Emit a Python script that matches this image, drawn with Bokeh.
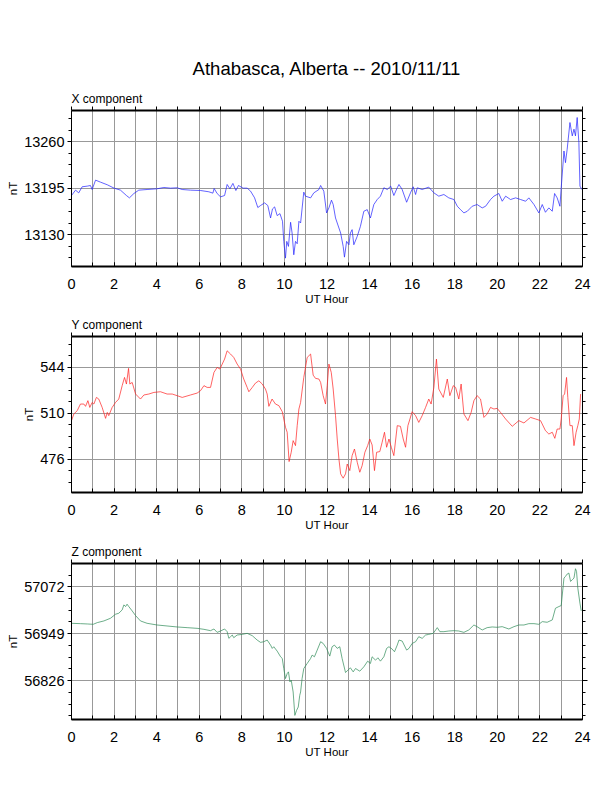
import numpy as np
from bokeh.plotting import figure
from bokeh.layouts import column
from bokeh.models import Range1d, LinearAxis, SingleIntervalTicker, FixedTicker, Title, ColumnDataSource
from bokeh.embed import file_html
from bokeh.resources import INLINE

MAIN_TITLE = "Athabasca, Alberta -- 2010/11/11"
COMPONENTS = ["X component", "Y component", "Z component"]
X_LABEL = "UT Hour"
Y_LABEL = "nT"

X_HOURS = [
    0.00, 0.19, 0.34, 0.50, 0.74, 0.89, 0.97, 1.13, 1.36, 1.68,
    2.00, 2.30, 2.58, 2.72, 2.93, 3.16, 3.55, 4.02, 4.34, 4.65,
    4.96, 5.20, 5.59, 6.06, 6.45, 6.64, 6.70, 6.84, 7.00, 7.19,
    7.31, 7.44, 7.58, 7.72, 7.84, 8.06, 8.25, 8.41, 8.60, 8.75,
    8.88, 9.07, 9.22, 9.35, 9.44, 9.54, 9.66, 9.79, 9.91, 9.97,
    10.05, 10.11, 10.19, 10.29, 10.36, 10.44, 10.52, 10.60, 10.68, 10.76,
    10.91, 10.99, 11.23, 11.38, 11.62, 11.70, 11.85, 11.98, 12.09, 12.21,
    12.29, 12.40, 12.48, 12.64, 12.76, 12.82, 12.92, 13.03, 13.10, 13.18,
    13.26, 13.42, 13.57, 13.73, 13.89, 14.04, 14.20, 14.36, 14.51, 14.67,
    14.83, 14.99, 15.14, 15.30, 15.38, 15.53, 15.74, 15.92, 16.05, 16.16,
    16.24, 16.47, 16.78, 17.02, 17.25, 17.49, 17.72, 17.96, 18.12, 18.27,
    18.43, 18.59, 18.82, 19.05, 19.29, 19.45, 19.68, 19.84, 20.07, 20.23,
    20.39, 20.62, 20.86, 21.09, 21.33, 21.48, 21.72, 21.95, 22.11, 22.26,
    22.42, 22.58, 22.69, 22.81, 22.94, 23.00, 23.13, 23.20, 23.28, 23.41,
    23.52, 23.60, 23.67, 23.75, 23.83, 23.88, 23.97]
X_NT = [
    13184.7, 13192.2, 13188.4, 13196.9, 13197.8, 13198.7, 13193.1, 13206.2, 13203.4, 13199.7,
    13195.0, 13192.2, 13184.7, 13181.4, 13187.5, 13192.2, 13193.1, 13194.1, 13195.9, 13195.0,
    13195.5, 13193.1, 13192.2, 13191.7, 13189.9, 13188.0, 13194.5, 13187.5, 13182.8, 13184.7,
    13200.1, 13194.1, 13201.6, 13191.7, 13198.7, 13195.0, 13195.0, 13190.8, 13181.4, 13167.9,
    13170.7, 13174.4, 13170.7, 13153.3, 13166.0, 13168.8, 13156.6, 13159.4, 13148.7, 13120.6,
    13097.2, 13120.6, 13113.6, 13147.3, 13132.3, 13101.9, 13120.6, 13117.3, 13148.7, 13146.3,
    13189.4, 13183.8, 13181.4, 13188.4, 13193.1, 13198.7, 13190.8, 13160.4, 13167.4, 13178.2,
    13172.1, 13153.3, 13146.3, 13132.3, 13113.6, 13098.6, 13120.6, 13115.9, 13132.3, 13137.0,
    13115.9, 13127.6, 13141.6, 13162.7, 13165.0, 13153.3, 13172.1, 13179.1, 13183.8, 13195.5,
    13193.1, 13197.8, 13184.7, 13195.5, 13200.1, 13193.1, 13175.3, 13188.4, 13196.9, 13186.1,
    13195.5, 13193.1, 13196.4, 13188.4, 13183.8, 13186.1, 13181.4, 13179.1, 13169.7, 13165.0,
    13160.4, 13162.7, 13169.7, 13172.1, 13167.4, 13169.7, 13179.1, 13183.8, 13187.5, 13176.7,
    13183.8, 13179.1, 13181.4, 13179.1, 13176.7, 13181.4, 13172.1, 13160.4, 13172.1, 13161.3,
    13167.4, 13162.7, 13187.5, 13181.4, 13169.7, 13195.5, 13246.9, 13230.6, 13249.3, 13286.7,
    13268.0, 13277.4, 13268.0, 13293.7, 13258.6, 13197.8, 13193.1]

Y_HOURS = [
    0.00, 0.11, 0.27, 0.42, 0.58, 0.66, 0.77, 0.86, 0.97, 1.05,
    1.17, 1.28, 1.44, 1.60, 1.68, 1.75, 1.91, 2.07, 2.22, 2.38,
    2.49, 2.58, 2.68, 2.74, 2.85, 3.01, 3.24, 3.40, 3.63, 3.87,
    4.18, 4.49, 4.73, 4.96, 5.20, 5.59, 5.90, 6.06, 6.22, 6.37,
    6.53, 6.69, 6.84, 6.97, 7.08, 7.19, 7.31, 7.47, 7.62, 7.78,
    7.94, 8.09, 8.25, 8.33, 8.49, 8.64, 8.80, 8.96, 9.11, 9.19,
    9.27, 9.42, 9.58, 9.74, 9.90, 10.05, 10.13, 10.22, 10.32, 10.41,
    10.52, 10.60, 10.68,
    10.76, 10.91, 11.07, 11.23, 11.35, 11.46, 11.62, 11.70, 11.82, 11.93,
    12.01, 12.09, 12.20, 12.29, 12.40, 12.48, 12.56, 12.64, 12.76, 12.87,
    12.95, 13.07, 13.18, 13.29, 13.42, 13.54, 13.65, 13.78, 13.91, 14.01,
    14.12, 14.23, 14.33, 14.48, 14.59, 14.70, 14.80, 14.91, 15.02, 15.14,
    15.30, 15.45, 15.58, 15.69, 15.80, 16.00, 16.16, 16.31, 16.47, 16.63,
    16.78, 16.89, 17.02, 17.14, 17.25, 17.46, 17.65, 17.77, 17.93, 18.04,
    18.19, 18.30, 18.43, 18.62, 18.77, 18.90, 19.05, 19.21, 19.37, 19.52,
    19.68, 19.84, 19.99, 20.15, 20.39, 20.70, 21.01, 21.25, 21.56, 21.80,
    22.03, 22.26, 22.42, 22.58, 22.70, 22.81, 22.94, 23.00, 23.09, 23.16,
    23.25, 23.31, 23.41, 23.52, 23.60, 23.70, 23.78, 23.85, 23.91]
Y_NT = [
    504.6, 509.5, 512.0, 516.9, 516.9, 515.2, 519.4, 514.4, 518.1, 516.9,
    521.8, 520.6, 514.4, 506.3, 510.7, 508.3, 514.4, 518.1, 520.6, 530.5,
    536.6, 531.7, 543.3, 531.7, 532.9, 524.3, 520.6, 523.6, 524.3, 525.5,
    526.0, 524.3, 524.3, 523.1, 521.8, 523.6, 525.0, 526.8, 530.5, 529.2,
    529.2, 540.3, 544.0, 542.8, 546.5, 550.2, 556.3, 553.9, 551.4, 546.5,
    542.8, 535.4, 529.2, 526.0, 529.2, 532.4, 534.1, 531.7, 528.0, 524.3,
    515.2, 520.6, 516.9, 515.7, 511.2, 499.7, 496.0, 474.3, 481.2, 489.8,
    486.1, 500.9, 513.2,
    518.1, 536.6, 551.4, 553.9, 538.3, 535.9, 535.4, 532.9, 523.1, 516.9,
    530.5, 546.5, 540.3, 528.0, 508.3, 491.0, 476.2, 465.2, 462.0, 465.2,
    472.5, 467.6, 478.7, 483.6, 473.8, 466.4, 471.3, 481.2, 486.1, 491.0,
    486.6, 467.6, 481.2, 481.7, 488.6, 496.0, 484.9, 491.0, 484.9, 478.7,
    500.9, 500.4, 491.0, 484.9, 500.9, 511.2, 508.3, 503.3, 508.3, 514.4,
    520.6, 516.9, 529.2, 550.2, 528.0, 521.8, 535.4, 523.1, 530.5, 529.2,
    520.6, 531.7, 509.5, 504.6, 510.7, 519.4, 523.1, 520.6, 507.0, 509.5,
    514.4, 513.2, 513.7, 510.7, 505.8, 500.4, 504.6, 502.9, 507.0, 505.8,
    504.6, 497.2, 494.7, 496.0, 491.5, 498.4, 498.4, 505.8, 523.1, 524.3,
    536.6, 521.8, 500.9, 500.9, 486.1, 496.0, 500.9, 505.8, 524.3]

Z_HOURS = [
    0.00, 0.42, 0.74, 1.02, 1.21, 1.52, 1.83, 2.07, 2.22, 2.38,
    2.46, 2.54, 2.61, 2.69, 2.85, 3.01, 3.24, 3.55, 4.02, 4.49,
    4.96, 5.43, 5.90, 6.22, 6.53, 6.69, 6.84, 7.00, 7.19, 7.31,
    7.39, 7.47, 7.55, 7.62, 7.78, 8.02, 8.25, 8.49, 8.72, 8.88,
    9.03, 9.19, 9.35, 9.43, 9.50, 9.66, 9.82, 9.90, 9.97, 10.05,
    10.13, 10.19, 10.26, 10.32, 10.41, 10.49, 10.57, 10.65, 10.72,
    10.76, 10.83, 10.91, 11.07, 11.23, 11.30, 11.41, 11.54, 11.70, 11.82,
    11.98, 12.13, 12.24, 12.35, 12.48, 12.60, 12.71, 12.87, 12.98, 13.10,
    13.23, 13.34, 13.54, 13.73, 13.91, 14.04, 14.12, 14.28, 14.39, 14.51,
    14.67, 14.80, 14.91, 15.06, 15.17, 15.30, 15.38, 15.53, 15.74, 15.85,
    16.00, 16.16, 16.31, 16.47, 16.63, 16.78, 16.99, 17.18, 17.30, 17.49,
    17.72, 17.96, 18.19, 18.43, 18.66, 18.90, 19.05, 19.29, 19.52, 19.76,
    19.99, 20.23, 20.54, 20.78, 21.01, 21.25, 21.48, 21.72, 21.95, 22.11,
    22.34, 22.58, 22.73, 22.89, 23.00, 23.13, 23.20, 23.28, 23.36, 23.44,
    23.52, 23.60, 23.67, 23.72, 23.78, 23.88, 23.94]
Z_NT = [
    56976.2, 56975.3, 56974.5, 56973.6, 56978.0, 56982.4, 56989.4, 57000.0, 57002.6, 57011.3,
    57024.5, 57020.1, 57026.3, 57020.1, 57008.7, 56996.4, 56982.4, 56976.2, 56971.8, 56969.2,
    56966.6, 56964.8, 56963.0, 56960.4, 56956.9, 56961.3, 56952.5, 56956.0, 56961.3, 56954.3,
    56936.7, 56941.1, 56945.5, 56938.5, 56945.5, 56947.2, 56949.9, 56943.7, 56932.3, 56926.2,
    56927.9, 56932.3, 56919.1, 56910.4, 56914.8, 56903.3, 56888.4, 56884.0, 56857.7, 56831.3,
    56844.5, 56848.9, 56822.6, 56827.0, 56796.2, 56734.8, 56747.9, 56756.7, 56787.4,
    56796.2, 56831.3, 56857.7, 56870.9, 56884.0, 56892.8, 56888.4, 56906.0, 56927.9, 56923.5,
    56910.4, 56890.2, 56914.8, 56919.1, 56910.4, 56914.8, 56884.0, 56847.2, 56853.3, 56859.4,
    56848.9, 56857.7, 56850.7, 56862.1, 56877.0, 56870.9, 56888.4, 56879.6, 56885.8, 56877.0,
    56888.4, 56910.4, 56914.8, 56908.6, 56901.6, 56919.1, 56932.3, 56929.7, 56906.0, 56910.4,
    56923.5, 56927.9, 56941.1, 56936.7, 56945.5, 56947.2, 56949.9, 56964.8, 56954.3, 56954.3,
    56956.0, 56956.9, 56956.0, 56952.5, 56958.7, 56971.8, 56967.4, 56958.7, 56964.8, 56966.6,
    56965.7, 56967.4, 56961.3, 56967.4, 56971.8, 56971.8, 56975.3, 56975.3, 56973.6, 56980.6,
    56978.9, 56985.0, 57015.7, 57020.1, 57022.8, 57094.7, 57099.1, 57105.3, 57107.9, 57086.0,
    57090.4, 57094.7, 57119.3, 57112.3, 57068.4, 57028.9, 57008.7]

X_TICKS = [13130, 13195, 13260]
Y_TICKS = [476, 510, 544]
Z_TICKS = [56826, 56949, 57072]

X_RANGE = (13085.5, 13303.5)
Y_RANGE = (451.4, 566.9)
Z_RANGE = (56724.0, 57133.0)

FONT = "Liberation Sans"


def minor_list(ticks, rng):
    step = (ticks[1] - ticks[0]) / 4.0
    out = []
    v = ticks[0]
    while v - step >= rng[0]:
        v -= step
    while v <= rng[1]:
        if min(abs(v - t) for t in ticks) > 1e-6:
            out.append(v)
        v += step
    return out


def base_axis(ax):
    ax.major_label_text_font = FONT
    ax.major_label_text_font_size = "14.5px"
    ax.major_label_text_color = "black"
    ax.axis_line_color = "black"
    ax.major_tick_line_color = "black"
    ax.minor_tick_line_color = "black"
    ax.axis_label_text_font = FONT
    ax.axis_label_text_font_style = "normal"
    ax.axis_label_text_font_size = "11.5px"
    ax.axis_label_text_color = "black"


def panel(hours, values, color, yr, yticks, comp, top_border, main=None):
    if len(hours) != len(values):
        raise ValueError("length mismatch for " + comp)
    p = figure(frame_width=511, frame_height=156, x_range=Range1d(0, 24), y_range=Range1d(*yr),
               output_backend="svg", toolbar_location=None, title=None,
               min_border_left=71, min_border_right=18, min_border_top=top_border,
               min_border_bottom=47)
    p.outline_line_color = None
    p.background_fill_color = "white"
    p.border_fill_color = "white"

    # bottom axis
    xa = p.xaxis[0]
    base_axis(xa)
    xa.ticker = SingleIntervalTicker(interval=2, num_minor_ticks=2)
    xa.axis_line_width = 2
    xa.major_tick_in = 4
    xa.major_tick_out = 0
    xa.minor_tick_in = 4
    xa.minor_tick_out = 0
    xa.major_label_standoff = 12
    xa.axis_label = X_LABEL
    xa.axis_label_standoff = 1

    # left axis
    ya = p.yaxis[0]
    base_axis(ya)
    ya.ticker = FixedTicker(ticks=yticks, minor_ticks=minor_list(yticks, yr))
    ya.major_tick_in = 0
    ya.major_tick_out = 4
    ya.minor_tick_in = 0
    ya.minor_tick_out = 3
    ya.major_label_standoff = 3
    ya.axis_label = Y_LABEL
    ya.axis_label_standoff = 2

    # right axis (no labels)
    ra = LinearAxis(ticker=FixedTicker(ticks=yticks, minor_ticks=minor_list(yticks, yr)))
    base_axis(ra)
    ra.major_label_overrides = {t: "" for t in yticks}
    ra.major_label_text_font_size = "1px"
    ra.major_label_standoff = 0
    ra.major_tick_in = 0
    ra.major_tick_out = 5
    ra.minor_tick_in = 0
    ra.minor_tick_out = 3
    p.add_layout(ra, "right")

    # top axis (no labels)
    ta = LinearAxis(ticker=SingleIntervalTicker(interval=1, num_minor_ticks=0))
    base_axis(ta)
    ta.major_label_overrides = {i: "" for i in range(25)}
    ta.major_label_text_font_size = "1px"
    ta.major_label_standoff = 0
    ta.axis_line_width = 2
    ta.major_tick_in = 0
    ta.major_tick_out = 4
    p.add_layout(ta, "above")

    # grids
    p.xgrid.ticker = SingleIntervalTicker(interval=1)
    p.xgrid.grid_line_color = "#999999"
    p.xgrid.grid_line_width = 1
    p.ygrid.grid_line_color = "#999999"
    p.ygrid.grid_line_width = 1

    p.add_layout(Title(text=comp, align="left", text_font=FONT, text_font_size="12px",
                       text_font_style="normal", text_color="black", standoff=1, offset=0), "above")
    if main is not None:
        p.add_layout(Title(text=main, align="center", text_font=FONT, text_font_size="18.5px",
                           text_font_style="normal", text_color="black", standoff=22), "above")

    src = ColumnDataSource(dict(h=hours, v=values))
    p.line("h", "v", source=src, line_color=color, line_width=0.7)
    return p


p1 = panel(X_HOURS, X_NT, "#2020ff", X_RANGE, X_TICKS, COMPONENTS[0], 110, MAIN_TITLE)
p2 = panel(Y_HOURS, Y_NT, "#ff2020", Y_RANGE, Y_TICKS, COMPONENTS[1], 23)
p3 = panel(Z_HOURS, Z_NT, "#2e8b57", Z_RANGE, Z_TICKS, COMPONENTS[2], 24)

layout = column(p1, p2, p3, spacing=0)
open("out.html", "w").write(file_html(layout, INLINE))
